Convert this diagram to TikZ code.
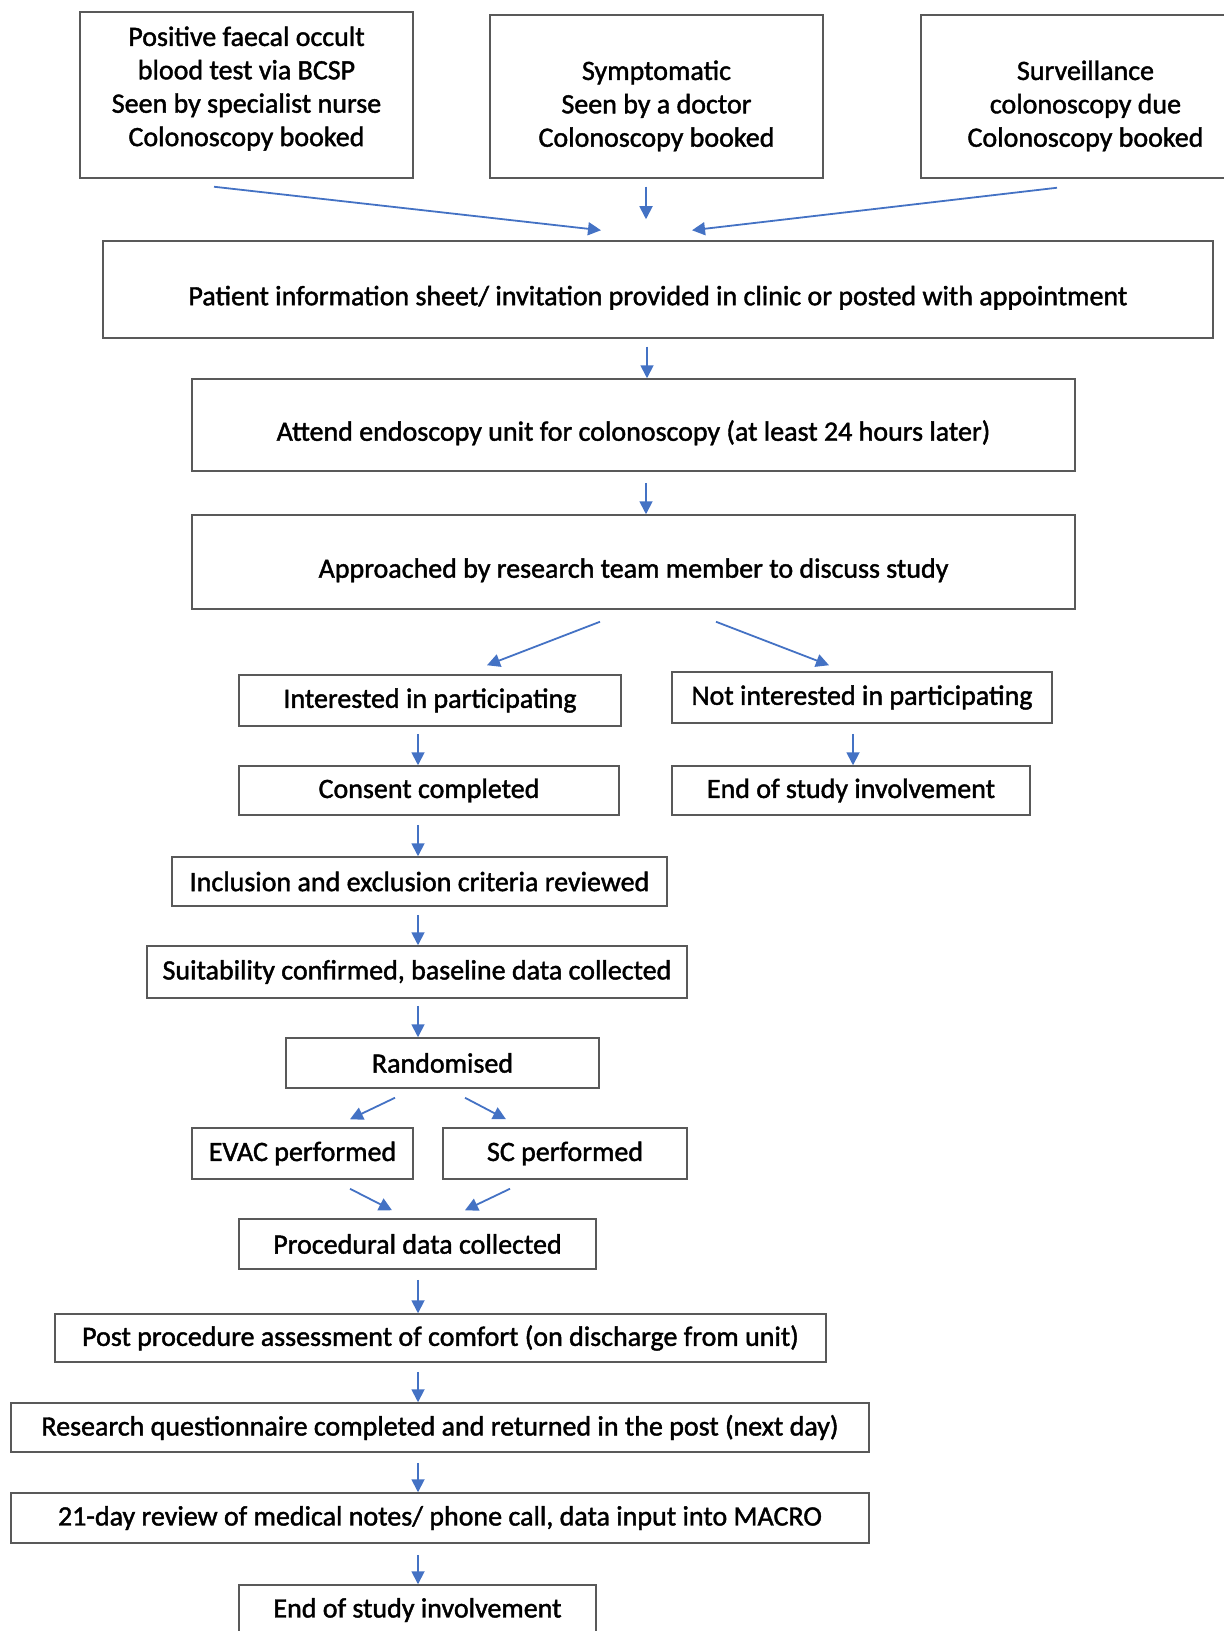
\documentclass[tikz,border=0pt]{standalone}
\usepackage{fontspec}
\setmainfont{Carlito}
\newfontfamily\flowfont{Carlito}[FakeBold=1.5]
\usepackage{tikz}
\usetikzlibrary{arrows.meta,calc}
\definecolor{flowblue}{HTML}{4472C4}
\tikzset{
  font={\flowfont\fontsize{14pt}{16.7pt}\selectfont},
  stage/.style={draw=black!65, line width=0.75pt, align=center, inner sep=0pt},
  flow/.style={draw=flowblue, line width=0.9pt, -{Triangle[length=6.5pt,width=6.5pt]}}}

\begin{document}
\begin{tikzpicture}[x=0.5pt,y=-0.5pt]
\useasboundingbox (0,0) rectangle (1223,1631);
% entry routes
\node [stage, minimum width=166.5pt, minimum height=83pt] (fobt) at (246.5,95)
  {Positive faecal occult\\blood test via BCSP\\Seen by specialist nurse\\Colonoscopy booked\\[-8pt]~};
\node [stage, minimum width=166.5pt, minimum height=81.5pt] (sympt) at (656.5,96.5)
  {~\\[2.4pt]Symptomatic\\Seen by a doctor\\Colonoscopy booked};
\node [stage, minimum width=164.5pt, minimum height=81.5pt] (surv) at (1085.5,96.5)
  {~\\[2.4pt]Surveillance\\colonoscopy due\\Colonoscopy booked};
% main column
\node [stage, minimum width=555pt, minimum height=48.5pt] (info) at (658,289.5)
  {~\\[1.3pt]Patient information sheet/ invitation provided in clinic or posted with appointment};
\node [stage, minimum width=441.5pt, minimum height=46pt] (attend) at (633.5,425)
  {~\\[1.3pt]Attend endoscopy unit for colonoscopy (at least 24 hours later)};
\node [stage, minimum width=441.5pt, minimum height=47pt] (approach) at (633.5,562)
  {~\\[1.3pt]Approached by research team member to discuss study};
\node [stage, minimum width=191pt, minimum height=25.5pt] (yes) at (430,700.5)
  {Interested in participating};
\node [stage, minimum width=190pt, minimum height=25.5pt] (no) at (862,697.5)
  {Not interested in participating};
\node [stage, minimum width=190pt, minimum height=24.5pt] (consent) at (429,790.5)
  {Consent completed};
\node [stage, minimum width=179pt, minimum height=24.5pt] (endno) at (851,790.5)
  {End of study involvement};
\node [stage, minimum width=247.5pt, minimum height=24.5pt] (criteria) at (419.5,881.5)
  {Inclusion and exclusion criteria reviewed};
\node [stage, minimum width=270pt, minimum height=26pt] (baseline) at (417,972)
  {Suitability confirmed, baseline data collected};
\node [stage, minimum width=156.5pt, minimum height=25pt] (rand) at (442.5,1063)
  {Randomised};
\node [stage, minimum width=110.5pt, minimum height=25.5pt] (evac) at (302.5,1153.5)
  {EVAC performed};
\node [stage, minimum width=122pt, minimum height=25.5pt] (sc) at (565,1153.5)
  {SC performed};
\node [stage, minimum width=178.5pt, minimum height=25pt] (proc) at (417.5,1244)
  {Procedural data collected};
\node [stage, minimum width=385.5pt, minimum height=24pt] (comfort) at (440.5,1338)
  {Post procedure assessment of comfort (on discharge from unit)};
\node [stage, minimum width=429pt, minimum height=24.5pt] (quest) at (440,1427.5)
  {Research questionnaire completed and returned in the post (next day)};
\node [stage, minimum width=429pt, minimum height=25pt] (review) at (440,1518)
  {21-day review of medical notes/ phone call, data input into MACRO};
\node [stage, minimum width=178.5pt, minimum height=25pt] (endyes) at (417.5,1610)
  {End of study involvement};
% arrows
\draw [flow] ($(fobt.south)+(-32.5,8)$) -- ($(info.north)+(-57,-10)$);
\draw [flow] ($(sympt.south)+(-10.5,8)$) -- ($(info.north)+(-12,-21)$);
\draw [flow] ($(surv.south)+(-28.5,9)$) -- ($(info.north)+(34,-10)$);
\draw [flow] ($(info.south)+(-11,8)$) -- ($(attend.north)+(13.5,0)$);
\draw [flow] ($(attend.south)+(12.5,11)$) -- ($(approach.north)+(12.5,0)$);
\draw [flow] ($(approach.south)+(-33.5,12)$) -- ($(yes.north)+(57,-9)$);
\draw [flow] ($(approach.south)+(82.5,12)$) -- ($(no.north)+(-33,-6)$);
\draw [flow] ($(yes.south)+(-12,7)$) -- ($(consent.north)+(-11,0)$);
\draw [flow] ($(no.south)+(-9,10)$) -- ($(endno.north)+(2,0)$);
\draw [flow] ($(consent.south)+(-11,9)$) -- ($(criteria.north)+(-1.5,0)$);
\draw [flow] ($(criteria.south)+(-1.5,8)$) -- ($(baseline.north)+(1,0)$);
\draw [flow] ($(baseline.south)+(1,7)$) -- ($(rand.north)+(-24.5,0)$);
\draw [flow] ($(rand.south)+(-47.5,9)$) -- ($(evac.north)+(47.5,-8)$);
\draw [flow] ($(rand.south)+(22.5,9)$) -- ($(sc.north)+(-59,-8)$);
\draw [flow] ($(evac.south)+(47.5,9)$) -- ($(proc.north)+(-25.5,-8)$);
\draw [flow] ($(sc.south)+(-55,9)$) -- ($(proc.north)+(47.5,-8)$);
\draw [flow] ($(proc.south)+(0.5,10)$) -- ($(comfort.north)+(-22.5,0)$);
\draw [flow] ($(comfort.south)+(-22.5,9)$) -- ($(quest.north)+(-22,0)$);
\draw [flow] ($(quest.south)+(-22,10)$) -- ($(review.north)+(-22,0)$);
\draw [flow] ($(review.south)+(-22,11)$) -- ($(endyes.north)+(0.5,0)$);
\end{tikzpicture}
\end{document}
